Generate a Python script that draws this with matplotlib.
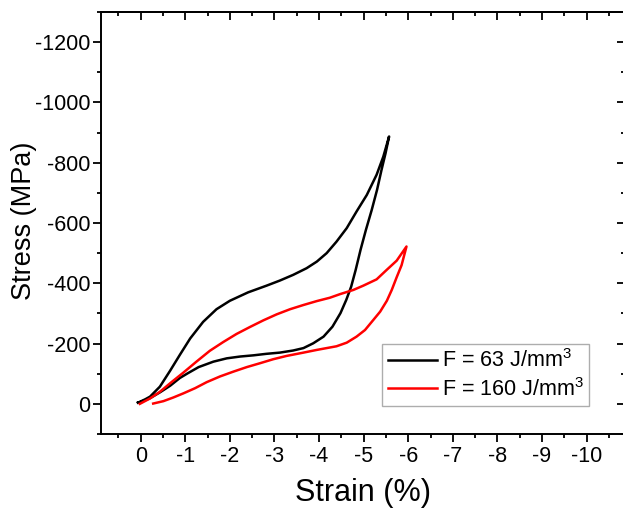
import matplotlib
matplotlib.use("Agg")
import matplotlib.pyplot as plt
from matplotlib.ticker import MultipleLocator

plt.rcParams["font.family"] = ["Liberation Sans", "DejaVu Sans"]
plt.rcParams["mathtext.fontset"] = "custom"
plt.rcParams["mathtext.rm"] = "Liberation Sans"
plt.rcParams["mathtext.it"] = "Liberation Sans"
plt.rcParams["axes.unicode_minus"] = False

# F = 63 J/mm3 : loading branch then unloading branch (strain %, stress MPa)
strain_63 = [
    0.06, -0.10, -0.21, -0.43, -0.66, -0.88, -1.11, -1.40, -1.70, -2.00,
    -2.41, -2.82, -3.12, -3.42, -3.72, -3.95, -4.17, -4.39,
    -4.62, -4.84, -5.07, -5.29, -5.44, -5.57,
    -5.49, -5.40, -5.30, -5.18, -5.05, -4.93, -4.82, -4.72, -4.61, -4.48,
    -4.30, -4.10, -3.87, -3.65, -3.42, -3.12, -2.82, -2.53, -2.23, -1.93,
    -1.63, -1.30, -1.05, -0.88, -0.66, -0.43, -0.21, -0.02, 0.06,
]
stress_63 = [
    -4, -15, -24, -57, -110, -163, -217, -272, -314, -342,
    -370, -392, -409, -428, -450, -472, -500, -538,
    -583, -638, -693, -760, -820, -887,
    -831, -776, -710, -643, -577, -511, -444, -389, -345, -301,
    -256, -223, -201, -185, -177, -170, -166, -161, -157, -151,
    -140, -122, -101, -86, -60, -38, -19, -7, -4,
]

# F = 160 J/mm3
strain_160 = [
    0.02, -0.21, -0.43, -0.69, -0.96, -1.25, -1.55, -1.85, -2.15, -2.45,
    -2.75, -3.05, -3.35, -3.65, -3.95, -4.24, -4.47, -4.77, -4.99, -5.29,
    -5.52, -5.74, -5.96,
    -5.85, -5.74, -5.63, -5.52, -5.37, -5.22, -5.03, -4.84, -4.62, -4.39,
    -4.17, -3.95, -3.65, -3.27, -2.97, -2.68, -2.38, -2.08, -1.78, -1.48,
    -1.22, -0.96, -0.73, -0.51, -0.28,
]
stress_160 = [
    0, -18, -40, -72, -104, -140, -176, -205, -232, -255,
    -277, -297, -314, -328, -341, -352, -364, -378, -392, -413,
    -445, -475, -522,
    -460, -420, -378, -342, -306, -279, -245, -223, -203, -191,
    -185, -179, -170, -159, -148, -135, -122, -107, -91, -72,
    -52, -35, -21, -9, -1,
]

labels = ["F = 63 J/mm$^3$", "F = 160 J/mm$^3$"]
colors = ["black", "#ff0000"]

x_ticks = list(range(0, -11, -1))
y_ticks = list(range(0, -1201, -200))

fig = plt.figure(figsize=(6.23, 5.09), dpi=100)
ax = fig.add_axes([101 / 623, 75 / 509, 524 / 623, 422 / 509])

ax.plot(strain_63, stress_63, color=colors[0], lw=1.8, label=labels[0])
ax.plot(strain_160, stress_160, color=colors[1], lw=1.8, label=labels[1])

ax.set_xlim(0.89, -10.86)
ax.set_ylim(100, -1300)
ax.set_xticks(x_ticks)
ax.set_yticks(y_ticks)
ax.xaxis.set_minor_locator(MultipleLocator(0.5))
ax.yaxis.set_minor_locator(MultipleLocator(100))
ax.tick_params(axis="both", which="major", direction="out", length=6, width=1.3,
               labelsize=15.5)
ax.tick_params(axis="both", which="minor", direction="out", length=3, width=1.3)
ax.tick_params(axis="x", pad=3)
ax.tick_params(axis="y", pad=1.5)
for sp in ax.spines.values():
    sp.set_linewidth(1.4)

top = ax.secondary_xaxis("top")
top.set_xticks(x_ticks)
top.xaxis.set_minor_locator(MultipleLocator(0.5))
top.tick_params(which="major", direction="in", length=6, width=1.3, labeltop=False)
top.tick_params(which="minor", direction="in", length=3, width=1.3)
top.spines["top"].set_linewidth(1.4)

right = ax.secondary_yaxis("right")
right.set_yticks(y_ticks)
right.yaxis.set_minor_locator(MultipleLocator(100))
right.tick_params(which="major", direction="in", length=6, width=1.3, labelright=False)
right.tick_params(which="minor", direction="in", length=3, width=1.3)
right.spines["right"].set_linewidth(1.4)

ax.set_xlabel("Strain (%)", fontsize=22)
ax.set_ylabel("Stress (MPa)", fontsize=19.5)
ax.xaxis.set_label_coords(0.5, -0.105)
ax.yaxis.set_label_coords(-0.122, 0.505)

leg = ax.legend(loc="upper right", bbox_to_anchor=(0.931, 0.213), borderaxespad=0,
                fontsize=15.5, frameon=True, fancybox=False, handlelength=2.3,
                handletextpad=0.2, labelspacing=0.25, borderpad=0.25)
leg.get_frame().set_edgecolor("#999999")
leg.get_frame().set_linewidth(1.0)

fig.savefig("out.png", dpi=100)
